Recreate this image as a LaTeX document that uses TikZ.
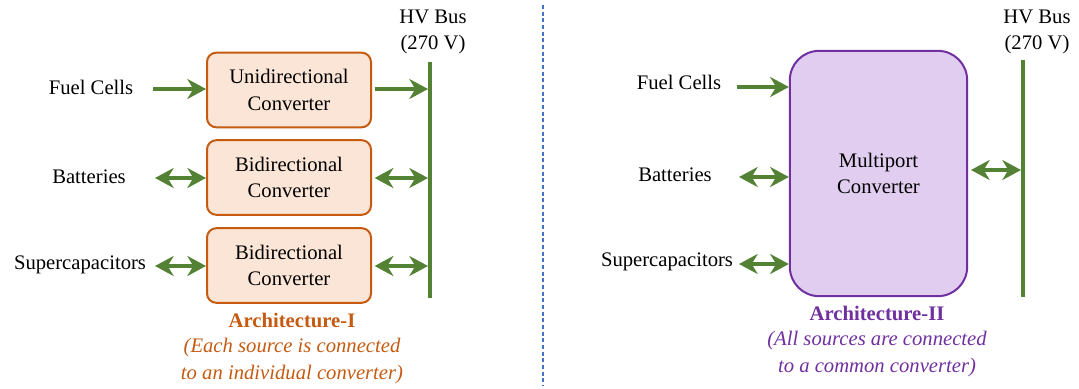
\documentclass[tikz,border=0pt]{standalone}
\usepackage{fontspec}
\setmainfont{Liberation Serif}
\usetikzlibrary{arrows.meta}
\definecolor{convorange}{HTML}{C55A11}
\definecolor{convfill}{HTML}{FBE5D6}
\definecolor{mpfill}{HTML}{E1CDEF}
\definecolor{mppurple}{HTML}{7030A0}
\definecolor{busgreen}{HTML}{548235}
\definecolor{sepblue}{HTML}{4472C4}
\tikzset{
  txt/.style={font=\fontsize{15.5}{20}\selectfont,align=center,inner sep=0pt},
  conv/.style={txt,draw=convorange,fill=convfill,line width=1.5pt,
    rounded corners=7pt,minimum width=123pt,minimum height=56pt},
  mport/.style={txt,draw=mppurple,fill=mpfill,line width=1.5pt,
    rounded corners=22pt,minimum width=133pt,minimum height=184pt},
  flow/.style={busgreen,line width=2.6pt,-{Stealth[length=14pt,width=15pt,inset=4.5pt]}},
  biflow/.style={busgreen,line width=2.6pt,
    {Stealth[length=14pt,width=15pt,inset=4.5pt]}-{Stealth[length=14pt,width=15pt,inset=4.5pt]}},
  bus/.style={busgreen,line width=2.4pt},
}
\begin{document}
\begin{tikzpicture}[x=0.75pt,y=-0.75pt]
  \useasboundingbox (0,0) rectangle (1079,389);
  % separator
  \draw[sepblue,line width=1.1pt,dash pattern=on 3pt off 2pt] (543,5) -- (543,386);

  % Architecture-I
  \node[conv] (uni) at (289,90) {Unidirectional\\Converter};
  \node[conv] (bid1) at (289,177.5) {Bidirectional\\Converter};
  \node[conv] (bid2) at (289,265.5) {Bidirectional\\Converter};
  \node[txt] (fcA) at (91,87) {Fuel Cells};
  \node[txt] (batA) at (89,177) {Batteries};
  \node[txt] (scA) at (80,265) {Supercapacitors};
  \coordinate (fcAin) at (153,89);
  \coordinate (batAin) at (155,178);
  \coordinate (scAin) at (155,266);
  \coordinate (busAtop) at (430,62);
  \coordinate (busAbot) at (430,298);
  \draw[bus] (busAtop) -- (busAbot);
  \node[txt] (hvA) at (433,32) {HV Bus\\(270 V)};
  \draw[flow] (fcAin) -- (fcAin -| uni.west);
  \draw[biflow] (batAin) -- (batAin -| bid1.west);
  \draw[biflow] (scAin) -- (scAin -| bid2.west);
  \draw[flow,shorten <=2pt,shorten >=1.5pt] (uni.east |- fcAin) -- (fcAin -| busAtop);
  \draw[biflow,shorten <=2pt,shorten >=1.5pt] (bid1.east |- batAin) -- (batAin -| busAtop);
  \draw[biflow,shorten <=2pt,shorten >=1.5pt] (bid2.east |- scAin) -- (scAin -| busAtop);
  \node[txt,text=convorange,font=\fontsize{15.5}{20}\selectfont\bfseries] (archA) at (292,320) {Architecture-I};
  \node[txt,text=convorange,font=\fontsize{15.5}{20}\selectfont\itshape] (noteA) at (292,361)
    {(Each source is connected\\to an individual converter)};

  % Architecture-II
  \node[mport] (multi) at (878.5,173.5) {Multiport\\Converter};
  \node[txt] (fcB) at (679,82) {Fuel Cells};
  \node[txt] (batB) at (675,175) {Batteries};
  \node[txt] (scB) at (667,262) {Supercapacitors};
  \coordinate (fcBin) at (737,87);
  \coordinate (batBin) at (739,177);
  \coordinate (scBin) at (739,264);
  \coordinate (busBtop) at (1023,60);
  \coordinate (busBbot) at (1023,297);
  \draw[bus] (busBtop) -- (busBbot);
  \node[txt] (hvB) at (1037,32) {HV Bus\\(270 V)};
  \draw[flow] (fcBin) -- (fcBin -| multi.west);
  \draw[biflow] (batBin) -- (batBin -| multi.west);
  \draw[biflow] (scBin) -- (scBin -| multi.west);
  \coordinate (busBin) at (971,170);
  \draw[biflow,shorten >=1.5pt] (busBin) -- (busBin -| busBtop);
  \node[txt,text=mppurple,font=\fontsize{15.5}{20}\selectfont\bfseries] (archB) at (877,313) {Architecture-II};
  \node[txt,text=mppurple,font=\fontsize{15.5}{20}\selectfont\itshape] (noteB) at (877,354)
    {(All sources are connected\\to a common converter)};
\end{tikzpicture}
\end{document}
